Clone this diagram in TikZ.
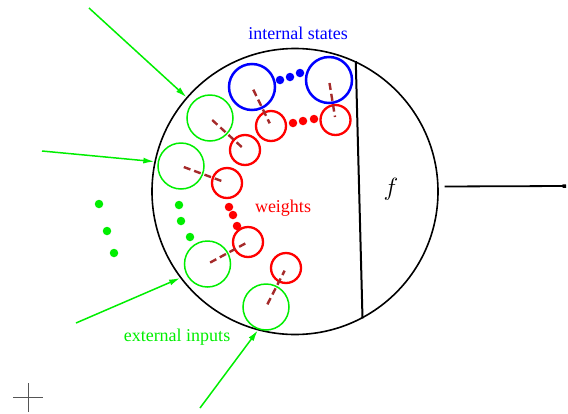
\documentclass[tikz,border=0pt]{standalone}
\usepackage{fontspec}
\setmainfont{Liberation Serif}
\usetikzlibrary{
  arrows.meta,
  positioning,
  calc
}
\definecolor{nnState}{HTML}{0000FF}
\definecolor{nnWeight}{HTML}{FF0000}
\definecolor{nnInput}{HTML}{00EE00}
\definecolor{nnLink}{HTML}{A52A2A}
\definecolor{nnMark}{HTML}{555555}
\tikzset{
  nncell/.style={draw, circle, line width=1.6pt, minimum size=286pt, inner sep=0pt},
  nnunit/.style={draw, circle, minimum size=46pt, inner sep=0pt},
  nnstate/.style={nnunit, draw=nnState, line width=2.5pt},
  nninput/.style={nnunit, draw=nnInput, line width=1.5pt},
  nnweight/.style={nnunit, draw=nnWeight, line width=2.3pt, minimum size=30pt},
  nndot/.style={circle, inner sep=0pt, minimum size=8.5pt},
  nnlink/.style={draw=nnLink, line width=2.4pt, dash pattern=on 7pt off 4pt,
    shorten <=3pt, shorten >=3pt},
  nnfeed/.style={-{Latex[length=11pt,width=6pt]}, draw=nnInput, line width=1.5pt},
  nnout/.style={-{Square[length=3.5pt,width=3.5pt]}, line width=1.8pt},
  nntag/.style={font=\fontsize{18}{20}\selectfont, inner sep=1pt}
}
\begin{document}
\begin{tikzpicture}[x=1pt, y=-1pt]
  \useasboundingbox (0,0) rectangle (568,413);

  % the cell and its output
  \node[nncell] (cell) at (295,191.5) {};
  \draw[line width=2pt] (cell.65) -- (cell.-62.5);
  \node[font=\fontsize{25}{28}\selectfont] (fn) at (391,189) {$f$};
  \coordinate (out) at (566,186);
  \draw[nnout] ([xshift=6pt]cell.2) -- (out);

  % internal states
  \node[nnstate] (s1) at (252,87) {};
  \node[nnstate] (s2) at (329,80) {};
  \foreach \p [count=\i] in {(280,80),(290,77),(300,73)}
    \node[nndot, fill=nnState] (sd\i) at \p {};

  % external inputs
  \node[nninput] (g1) at (210,118) {};
  \node[nninput] (g2) at (181,166) {};
  \node[nninput] (g3) at (207.5,264) {};
  \node[nninput] (g4) at (266,307) {};
  \foreach \p [count=\i] in {(179,205),(181,221),(190,237),(99,204),(107,231),(114,253)}
    \node[nndot, fill=nnInput] (gd\i) at \p {};

  % weights
  \node[nnweight] (w1) at (271,126) {};
  \node[nnweight] (w2) at (335.5,120) {};
  \node[nnweight] (w3) at (245,150) {};
  \node[nnweight] (w4) at (227,183) {};
  \node[nnweight] (w5) at (248,242) {};
  \node[nnweight] (w6) at (286,268) {};
  \foreach \p [count=\i] in {(293,123),(303,121),(314,119),(229,207),(233,215),(237,226)}
    \node[nndot, fill=nnWeight] (wd\i) at \p {};

  \draw[nnlink] (s1.center) -- (w1.center);
  \draw[nnlink] (s2.center) -- (w2.center);
  \draw[nnlink] (g1.center) -- (w3.center);
  \draw[nnlink] (g2.center) -- (w4.center);
  \draw[nnlink] (g3.center) -- (w5.center);
  \draw[nnlink] (g4.center) -- (w6.center);

  % incoming inputs
  \coordinate (in1) at (89,8);
  \coordinate (in2) at (42,151);
  \coordinate (in3) at (76,323);
  \coordinate (in4) at (200,408);
  \draw[nnfeed] (in1) -- (cell.139.3);
  \draw[nnfeed] (in2) -- (cell.168.7);
  \draw[nnfeed] (in3) -- (cell.217.6);
  \draw[nnfeed] (in4) -- (cell.255);

  % labels
  \node[nntag, text=nnState] (lstate) at (298,33) {internal states};
  \node[nntag, text=nnWeight] (lweight) at (283,208) {weights};
  \node[nntag, text=nnInput] (linput) at (177,337) {external inputs};

  % corner mark
  \draw[nnMark, line width=0.8pt] (13,397) -- (43,397) (28,383) -- (28,412);
\end{tikzpicture}
\end{document}
